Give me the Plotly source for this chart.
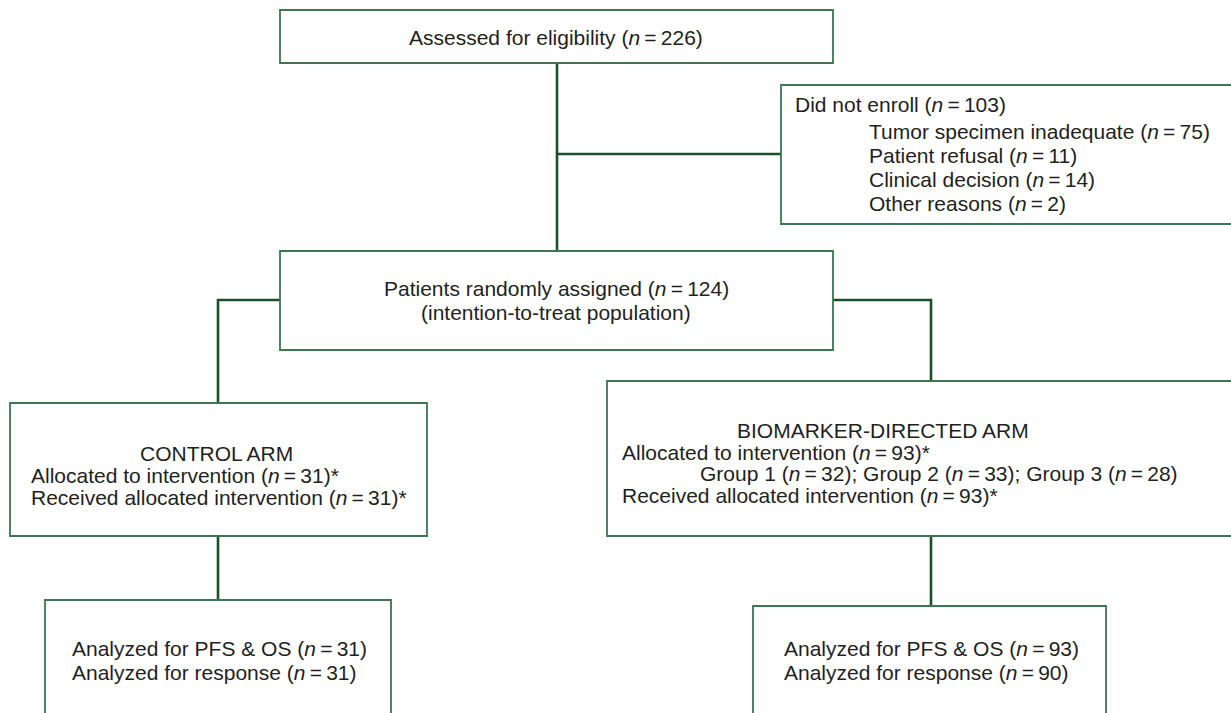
import plotly.graph_objects as go

# ---- data ----
assessed_n = 226
not_enrolled_n = 103
not_enrolled_reasons = ["Tumor specimen inadequate", "Patient refusal", "Clinical decision", "Other reasons"]
not_enrolled_counts = [75, 11, 14, 2]
randomized_n = 124
control_allocated = 31
control_received = 31
biomarker_allocated = 93
biomarker_received = 93
group_labels = ["Group 1", "Group 2", "Group 3"]
group_counts = [32, 33, 28]
control_pfs_os = 31
control_response = 31
biomarker_pfs_os = 93
biomarker_response = 90

W, H = 1231, 713
FONT = "Liberation Sans, Arial, Helvetica, sans-serif"
FS = 21
TXT = "#231f20"
BOX = "#3d7651"
LINK = "#1a4f2c"


def nn(v):
    return f"(<i>n</i>\u2009=\u2009{v})"


fig = go.Figure()
shapes = []
annots = []


def box(x0, y0, x1, y1):
    shapes.append(dict(type="rect", x0=x0, y0=y0, x1=x1, y1=y1, xref="x", yref="y",
                       line=dict(color=BOX, width=1.8), fillcolor="rgba(0,0,0,0)", layer="above"))


def link(pts):
    path = "M " + " L ".join(f"{x},{y}" for x, y in pts)
    shapes.append(dict(type="path", path=path, xref="x", yref="y",
                       line=dict(color=LINK, width=2.6), layer="below"))


def text(s, x, y, anchor="left"):
    annots.append(dict(text=s, x=x, y=y, xref="x", yref="y", showarrow=False,
                       xanchor=anchor, yanchor="middle",
                       font=dict(family=FONT, size=FS, color=TXT)))


# connectors
link([(557, 63), (557, 251)])
link([(557, 154), (781, 154)])
link([(280, 300), (218, 300), (218, 403)])
link([(833, 300), (931, 300), (931, 381)])
link([(218, 536), (218, 600)])
link([(931, 536), (931, 606)])

# boxes
box(280, 10, 833, 63)
box(781, 85, 1240, 224)
box(280, 251, 833, 350)
box(10, 403, 427, 536)
box(607, 381, 1240, 536)
box(45, 600, 391, 730)
box(753, 606, 1106, 730)

# texts
text(f"Assessed for eligibility {nn(assessed_n)}", 556, 37, "center")

text(f"Did not enroll {nn(not_enrolled_n)}", 793, 104)
for i, (lab, c) in enumerate(zip(not_enrolled_reasons, not_enrolled_counts)):
    text(f"{lab} {nn(c)}", 867, 131 + 24 * i)

text(f"Patients randomly assigned {nn(randomized_n)}", 556, 288, "center")
text("(intention-to-treat population)", 556, 312, "center")

text("CONTROL ARM", 216, 453, "center")
text(f"Allocated to intervention {nn(control_allocated)}*", 29, 475)
text(f"Received allocated intervention {nn(control_received)}*", 29, 497)

text("BIOMARKER-DIRECTED ARM", 883, 430, "center")
text(f"Allocated to intervention {nn(biomarker_allocated)}*", 620, 452)
grp = "; ".join(f"{g} {nn(c)}" for g, c in zip(group_labels, group_counts))
text(grp, 698, 473)
text(f"Received allocated intervention {nn(biomarker_received)}*", 620, 495)

text(f"Analyzed for PFS & OS {nn(control_pfs_os)}", 70, 648)
text(f"Analyzed for response {nn(control_response)}", 70, 672)
text(f"Analyzed for PFS & OS {nn(biomarker_pfs_os)}", 782, 648)
text(f"Analyzed for response {nn(biomarker_response)}", 782, 672)

fig.update_layout(
    width=W, height=H,
    margin=dict(l=0, r=0, t=0, b=0),
    paper_bgcolor="white", plot_bgcolor="white",
    xaxis=dict(range=[0, W], visible=False, fixedrange=True),
    yaxis=dict(range=[H, 0], visible=False, fixedrange=True),
    shapes=shapes, annotations=annots,
    showlegend=False,
)
fig.write_html("out.html", config={"displayModeBar": False},
               post_script="document.body.style.margin='0';document.body.style.overflow='hidden';")
